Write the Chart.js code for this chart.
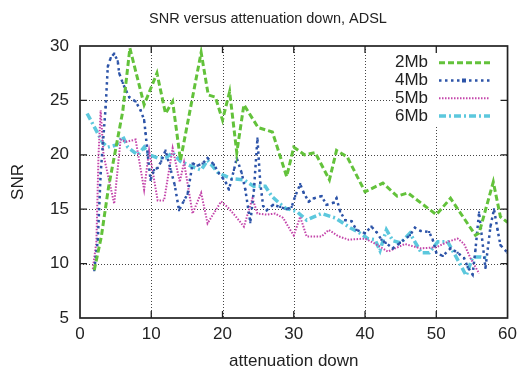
<!DOCTYPE html>
<html>
<head>
<meta charset="utf-8">
<title>SNR versus attenuation down, ADSL</title>
<script src="https://cdn.jsdelivr.net/npm/chart.js@4.4.1/dist/chart.umd.min.js"></script>
<style>
  html, body { margin: 0; padding: 0; background: #fff; }
  #wrap { width: 523px; height: 370px; }
</style>
</head>
<body>
<div id="wrap"><canvas id="snr" width="523" height="370"></canvas></div>
<script>
const FONT = '"Liberation Sans", Arial, Helvetica, sans-serif';
const TITLE = 'SNR versus attenuation down, ADSL';

// values: attenuation (x) / SNR (y) per profile
const att2 = [2, 3, 4, 5, 6, 7, 9, 10.8, 12, 13, 14.1, 17, 18, 19, 20, 21, 22, 23, 25, 27, 29, 30, 31.5, 33, 35, 36, 37.5, 40, 42.5, 44.5, 46, 50, 52, 55.5, 56, 58, 59, 60];
const snr2 = [9.4, 12.5, 17, 20.5, 24, 29.8, 24.6, 27.5, 23.8, 24.9, 19.5, 29.4, 25.5, 25.3, 23.2, 25.8, 20.2, 24.6, 22.5, 22.1, 18, 20.7, 20, 20.2, 17.7, 20.4, 19.8, 16.6, 17.4, 16.2, 16.5, 14.5, 16, 12.6, 12.8, 17.5, 14.3, 13.8];

const att4 = [2, 2.5, 2.9, 3.6, 3.9, 4.3, 4.8, 5.3, 5.5, 6, 6.4, 6.9, 7.8, 8.5, 9, 9.2, 9.5, 9.9, 10.4, 10.9, 11.4, 12, 12.7, 13.3, 13.9, 14.6, 15.1, 15.8, 16.5, 17.2, 17.9, 18.8, 19.5, 20.1, 20.5, 20.9, 21.6, 22, 22.7, 23.2, 23.9, 24.4, 24.9, 25.3, 25.7, 26.2, 27.1, 28.1, 29, 29.7, 30.2, 30.9, 31.4, 32.1, 32.8, 33.9, 34.6, 35.6, 36, 36.5, 37.2, 38.1, 38.8, 40, 40.9, 41.6, 42.3, 42.9, 43.9, 44.9, 46.3, 47, 47.8, 49, 49.5, 50, 50.9, 52, 53, 53.9, 54.4, 55.1, 55.5, 56, 56.9, 57.6, 58.1, 58.6, 59, 60];
const snr4 = [9.4, 12.2, 18.3, 24.4, 28.1, 28.9, 29.3, 28.6, 27.5, 26.6, 26, 25.3, 24.9, 24.1, 23.2, 22, 20, 17.7, 18.6, 18.8, 19.4, 20.4, 18.7, 17.2, 14.9, 15.8, 16.4, 19.2, 19, 19.2, 19.7, 19.1, 18.3, 17.8, 17.4, 16.8, 18.6, 19.7, 18.3, 16.8, 13.8, 16.7, 21.5, 17.4, 15.3, 14.9, 15.4, 15.2, 15, 15.2, 16.2, 17.3, 16.5, 15.7, 16, 16.2, 15.4, 15.6, 16, 14.8, 14, 13.9, 13.1, 12.8, 13.4, 12.9, 12.2, 11.9, 11.4, 11.9, 12.6, 13.3, 13, 12.9, 12.2, 11, 10.7, 11.4, 11, 10.5, 9.7, 9, 11.3, 14.7, 9.6, 13.4, 15, 13.1, 11.7, 11];

const att5 = [1.8, 2.3, 2.6, 2.9, 3.3, 4.8, 5.7, 6.5, 7.8, 9, 9.7, 10.9, 11.8, 13, 14, 14.6, 15.8, 17, 17.9, 19.8, 20.7, 21.9, 23, 24.2, 24.9, 26.2, 27.4, 28.5, 29.5, 30, 30.9, 31.8, 33.9, 34.9, 36.3, 37.7, 40, 41.5, 43.2, 45.6, 47.8, 50, 51.6, 53, 53.9, 54.8, 56];
const snr5 = [9.5, 12, 20, 24.1, 20, 15.5, 21.4, 21.2, 21.4, 16.8, 20.4, 15.8, 15.8, 20.6, 17.5, 19.3, 14.6, 16.5, 13.7, 15.7, 15.2, 14.3, 13.4, 16, 14.6, 14.5, 14.6, 14.2, 13.1, 12.6, 14.3, 12.5, 12.5, 13.1, 12.5, 12.2, 12.3, 11.8, 11.1, 11.8, 11.4, 11.5, 12, 12.3, 11.8, 10.5, 9.1];

const att6 = [1, 3.2, 3.9, 5.1, 6, 6.7, 8.1, 9, 9.7, 10.9, 12, 13, 14.1, 15.1, 15.8, 17, 17.9, 19.3, 20.2, 21.3, 23, 24.4, 26, 26.9, 27.9, 28.8, 30.4, 31.8, 33.9, 35.8, 37.9, 39.3, 40.4, 41.4, 42.1, 43, 43.9, 45, 46.3, 47, 47.9, 49, 50.2, 51.6, 52.8, 54.2, 55.1, 56.3, 57.2];
const snr6 = [23.8, 21.1, 20.7, 20.9, 21.7, 20.7, 20, 20.7, 20, 19.7, 19.7, 20.2, 19.4, 19.1, 18.9, 18.6, 19.5, 18.4, 18.1, 17.8, 17.7, 17.1, 17.1, 16.2, 15.6, 15.1, 14.8, 14, 14.6, 14.2, 13.3, 12.8, 12.3, 12.2, 11.2, 13.1, 12.1, 11.9, 12.8, 12, 11, 11, 12, 12, 10.6, 8.9, 10.6, 10.6, 10.5];

const seriesNames = ['2Mb', '4Mb', '5Mb', '6Mb'];
const xTicks = [0, 10, 20, 30, 40, 50, 60];
const yTicks = [5, 10, 15, 20, 25, 30];

const pts = (xs, ys) => xs.map((x, i) => ({ x, y: ys[i] }));

// gnuplot-ish dotted grid, boxed border with inward ticks, opaque key box, title
const frame = {
  id: 'frame',
  beforeDatasetsDraw(chart) {
    const { ctx, chartArea: a, scales: { x, y } } = chart;
    ctx.save();
    ctx.strokeStyle = '#444';
    ctx.lineWidth = 1;
    ctx.setLineDash([1, 2]);
    ctx.beginPath();
    xTicks.slice(1, -1).forEach(v => {
      const p = Math.round(x.getPixelForValue(v)) + 0.5;
      ctx.moveTo(p, a.top); ctx.lineTo(p, a.bottom);
    });
    yTicks.slice(1, -1).forEach(v => {
      const p = Math.round(y.getPixelForValue(v)) + 0.5;
      ctx.moveTo(a.left, p); ctx.lineTo(a.right, p);
    });
    ctx.stroke();
    ctx.restore();
  },
  afterDatasetsDraw(chart) {
    const { ctx, chartArea: a, scales: { x, y } } = chart;
    ctx.save();

    // title (gnuplot centres it a little right of the canvas middle)
    ctx.fillStyle = '#222';
    ctx.font = '14.5px ' + FONT;
    ctx.textAlign = 'center';
    ctx.textBaseline = 'middle';
    ctx.fillText(TITLE, 268, 19);

    // key
    ctx.fillStyle = '#fff';
    ctx.fillRect(393, 47, 110, 79);
    ctx.font = '17px ' + FONT;
    ctx.textAlign = 'right';
    chart.data.datasets.forEach((ds, i) => {
      const ly = 62.7 + i * 17.8;
      ctx.fillStyle = '#222';
      ctx.fillText(ds.label, 428, ly);
      ctx.strokeStyle = ds.borderColor;
      ctx.lineWidth = ds.borderWidth;
      ctx.setLineDash(ds.borderDash);
      ctx.beginPath();
      ctx.moveTo(439, ly); ctx.lineTo(490, ly);
      ctx.stroke();
      if (ds.pointRadius > 0) {
        ctx.setLineDash([]);
        ctx.fillStyle = ds.borderColor;
        const r = ds.pointRadius + 0.5;
        if (ds.pointStyle === 'rect') ctx.fillRect(464 - r, ly - r, 2 * r, 2 * r);
        else { ctx.beginPath(); ctx.arc(464, ly, r, 0, Math.PI * 2); ctx.fill(); }
      }
    });

    // border and ticks
    ctx.setLineDash([]);
    ctx.strokeStyle = '#222';
    ctx.lineWidth = 1.7;
    ctx.strokeRect(a.left, a.top, a.right - a.left, a.bottom - a.top);
    ctx.lineWidth = 1.3;
    ctx.beginPath();
    xTicks.slice(1, -1).forEach(v => {
      const p = x.getPixelForValue(v);
      ctx.moveTo(p, a.bottom); ctx.lineTo(p, a.bottom - 7);
      ctx.moveTo(p, a.top); ctx.lineTo(p, a.top + 7);
    });
    yTicks.slice(1, -1).forEach(v => {
      const p = y.getPixelForValue(v);
      ctx.moveTo(a.left, p); ctx.lineTo(a.left + 7, p);
      ctx.moveTo(a.right, p); ctx.lineTo(a.right - 7, p);
    });
    ctx.stroke();
    ctx.restore();
  }
};

new Chart(document.getElementById('snr'), {
  type: 'scatter',
  data: {
    datasets: [
      { label: seriesNames[0], data: pts(att2, snr2), borderColor: '#63c23b', borderWidth: 3, borderDash: [6, 3], pointRadius: 0 },
      { label: seriesNames[1], data: pts(att4, snr4), borderColor: '#2d54a8', borderWidth: 2.5, borderDash: [2.5, 3.5], pointRadius: 1.5, pointStyle: 'rect', pointBorderWidth: 0, pointBackgroundColor: '#2d54a8' },
      { label: seriesNames[2], data: pts(att5, snr5), borderColor: '#c445aa', borderWidth: 2, borderDash: [1.5, 1.5], pointRadius: 0 },
      { label: seriesNames[3], data: pts(att6, snr6), borderColor: '#5cc8dd', borderWidth: 3.5, borderDash: [7, 3, 2, 3], pointRadius: 0 }
    ].map(ds => Object.assign({ showLine: true, fill: false, tension: 0 }, ds))
  },
  options: {
    responsive: false,
    animation: false,
    devicePixelRatio: 1,
    layout: { padding: { top: 46, right: 13, bottom: 0, left: 0 } },
    plugins: {
      legend: { display: false },
      tooltip: { enabled: false },
      title: { display: false }
    },
    scales: {
      x: {
        type: 'linear', min: 0, max: 60,
        afterBuildTicks: s => { s.ticks = xTicks.map(v => ({ value: v })); },
        afterFit: s => { s.height = 52; },
        grid: { display: false, drawTicks: false },
        border: { display: false },
        ticks: { color: '#222', padding: 6, font: { family: FONT, size: 17 } },
        title: { display: true, text: 'attenuation down', color: '#222', padding: 0, font: { family: FONT, size: 17, lineHeight: 1 } }
      },
      y: {
        type: 'linear', min: 5, max: 30,
        afterBuildTicks: s => { s.ticks = yTicks.map(v => ({ value: v })); },
        afterFit: s => { s.width = 80; },
        grid: { display: false, drawTicks: false },
        border: { display: false },
        ticks: { color: '#222', padding: 11, font: { family: FONT, size: 17 } },
        title: { display: true, text: 'SNR', color: '#222', padding: { top: 10, bottom: 0 }, font: { family: FONT, size: 17, lineHeight: 1 } }
      }
    }
  },
  plugins: [frame]
});
</script>
</body>
</html>
